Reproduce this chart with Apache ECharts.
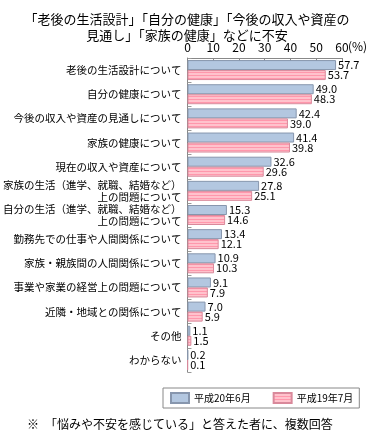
<!DOCTYPE html>
<html>
<head>
<meta charset="utf-8">
<script src="https://cdn.jsdelivr.net/npm/echarts@6/dist/echarts.min.js"></script>
<style>
html,body{margin:0;padding:0;background:#fff;}
#c{width:378px;height:442px;}
</style>
</head>
<body>
<div id="c"></div>
<script>
var titleText = "「老後の生活設計」「自分の健康」「今後の収入や資産の\n見通し」「家族の健康」などに不安";
var footnote = "※　「悩みや不安を感じている」と答えた者に、複数回答";
var categories = [
  "老後の生活設計について",
  "自分の健康について",
  "今後の収入や資産の見通しについて",
  "家族の健康について",
  "現在の収入や資産について",
  "家族の生活（進学、就職、結婚など）\n上の問題について",
  "自分の生活（進学、就職、結婚など）\n上の問題について",
  "勤務先での仕事や人間関係について",
  "家族・親族間の人間関係について",
  "事業や家業の経営上の問題について",
  "近隣・地域との関係について",
  "その他",
  "わからない"
];
var seriesNames = ["平成20年6月", "平成19年7月"];
var h20 = [57.7, 49.0, 42.4, 41.4, 32.6, 27.8, 15.3, 13.4, 10.9, 9.1, 7.0, 1.1, 0.2];
var h19 = [53.7, 48.3, 39.0, 39.8, 29.6, 25.1, 14.6, 12.1, 10.3, 7.9, 5.9, 1.5, 0.1];
var axisMin = 0, axisMax = 60, axisStep = 10;
var unitText = "(%)";

var FONT = '"Noto Sans CJK JP", sans-serif';

// striped pink pattern
var pc = document.createElement('canvas');
pc.width = 4; pc.height = 3;
var pctx = pc.getContext('2d');
pctx.fillStyle = '#ffc2cc'; pctx.fillRect(0,0,4,3);
pctx.fillStyle = '#ff97ac'; pctx.fillRect(0,0,4,1);
var pinkPattern = {image: pc, repeat: 'repeat'};

var chart = echarts.init(document.getElementById('c'), null, {renderer: 'canvas'});
chart.setOption({
  animation: false,
  backgroundColor: '#fff',
  title: {
    text: titleText,
    left: 187, top: 11, textAlign: 'center', padding: 0,
    textStyle: {fontFamily: FONT, fontSize: 13, fontWeight: 'normal', color: '#000', lineHeight: 16}
  },
  graphic: [
    {type: 'text', left: 348, top: 40, style: {text: unitText, font: '12px ' + FONT, fill: '#000'}},
    {type: 'text', left: 27, top: 418, style: {text: footnote, font: '12px ' + FONT, fill: '#000'}}
  ],
  legend: {
    data: seriesNames,
    left: 163, top: 388,
    orient: 'horizontal',
    itemWidth: 18, itemHeight: 10, itemGap: 22,
    padding: [4, 6, 4, 7],
    borderColor: '#888', borderWidth: 1,
    textStyle: {fontFamily: FONT, fontSize: 10, color: '#000'},
    icon: 'rect'
  },
  grid: {left: 184, top: 58, width: 158, height: 314, containLabel: false},
  xAxis: {
    type: 'value', position: 'top',
    min: axisMin, max: axisMax, interval: axisStep,
    axisLine: {show: true, lineStyle: {color: '#888', width: 1}},
    axisTick: {show: true, inside: true, length: 3, lineStyle: {color: '#888'}},
    axisLabel: {fontFamily: FONT, fontSize: 12, color: '#000', margin: 5},
    splitLine: {show: false}
  },
  yAxis: {
    type: 'category', data: categories, inverse: true,
    axisLine: {show: true, lineStyle: {color: '#888', width: 1}},
    axisTick: {show: true, inside: true, length: 4, lineStyle: {color: '#999'}},
    axisLabel: {fontFamily: FONT, fontSize: 10.5, color: '#000', margin: 6, lineHeight: 12, align: 'right'}
  },
  series: [
    {
      name: seriesNames[0], type: 'bar', data: h20,
      barWidth: 10, barGap: '0%',
      itemStyle: {color: '#b3c7e0', borderColor: '#8796ad', borderWidth: 1},
      label: {show: true, position: 'right', distance: 2, formatter: function(p){return p.value.toFixed(1);},
        fontFamily: FONT, fontSize: 11, color: '#000'}
    },
    {
      name: seriesNames[1], type: 'bar', data: h19,
      barWidth: 10, barGap: '0%',
      itemStyle: {color: pinkPattern, borderColor: '#d9899b', borderWidth: 1},
      label: {show: true, position: 'right', distance: 2, formatter: function(p){return p.value.toFixed(1);},
        fontFamily: FONT, fontSize: 11, color: '#000'}
    }
  ]
});
</script>
</body>
</html>
